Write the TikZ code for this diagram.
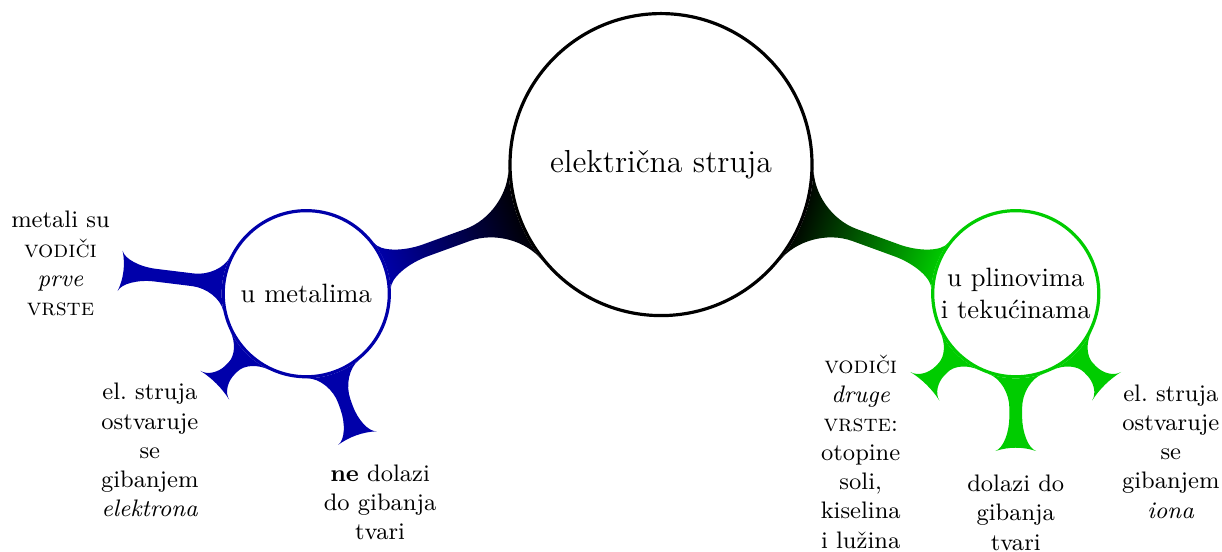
\documentclass[tikz,border=0pt]{standalone}
\usepackage{fontspec}
\usepackage{tikz}
\usetikzlibrary{backgrounds,calc}
\definecolor{metalblue}{RGB}{0,0,170}
\definecolor{fluidgreen}{RGB}{0,204,0}

\tikzset{
  rootconcept/.style={circle, draw=black, very thick, fill=white, minimum size=4cm, inner sep=0pt, font=\large},
  branchconcept/.style={circle, draw=#1, very thick, fill=white, minimum size=2.2cm, inner sep=0pt, align=center},
  leafconcept/.style={inner sep=0pt, align=center, font=\small},
}

% bar between two concepts: from, to, from colour, to colour, end radius, end angle
\makeatletter
\newcommand\conceptbar[6]{%
  \pgfpointdiff{\pgfpointanchor{#1}{center}}{\pgfpointanchor{#2}{center}}%
  \edef\bardx{\the\pgf@x}\edef\bardy{\the\pgf@y}%
  \pgfpointdiff{\pgfpointanchor{#1}{center}}{\pgfpointanchor{#1}{east}}%
  \edef\barra{\the\pgf@x}%
  \pgfmathsetmacro\barra{\barra}%
  \pgfmathsetmacro\barrb{#5}%
  \pgfmathsetmacro\barlen{veclen(\bardx,\bardy)}%
  \pgfmathsetmacro\barangle{atan2(\bardy,\bardx)}%
  \pgfmathsetmacro\bargap{\barlen-\barra-\barrb}%
  \pgfmathsetmacro\barfa{min(0.35*\barra,0.45*\bargap)}%
  \pgfmathsetmacro\barfb{min(0.5*\barrb,0.45*\bargap)}%
  \def\barpa{19}\def\barpb{#6}\def\barw{2.4}%
  \pgfmathsetmacro\barax{\barra*cos(\barpa)}\pgfmathsetmacro\baray{\barra*sin(\barpa)}%
  \pgfmathsetmacro\barbx{\barlen-\barrb*cos(\barpb)}\pgfmathsetmacro\barby{\barrb*sin(\barpb)}%
  \pgfmathsetmacro\barca{0.6*(\baray-\barw)}\pgfmathsetmacro\barcb{0.6*(\barby-\barw)}%
  \pgfmathsetmacro\baracx{\barax+\barca*sin(\barpa)}\pgfmathsetmacro\baracy{\baray-\barca*cos(\barpa)}%
  \pgfmathsetmacro\barbcx{\barbx-\barcb*sin(\barpb)}\pgfmathsetmacro\barbcy{\barby-\barcb*cos(\barpb)}%
  \pgfmathsetmacro\barsa{\barra+\barfa}\pgfmathsetmacro\barsb{\barlen-\barrb-\barfb}%
  \pgfmathsetmacro\barsac{\barra+0.5*\barfa}\pgfmathsetmacro\barsbc{\barlen-\barrb-0.5*\barfb}%
  \begin{scope}[transform canvas={shift={(#1.center)}, rotate=\barangle}]
    \shade[left color=#3, right color=#4]
      (\barax pt,\baray pt) .. controls (\baracx pt,\baracy pt) and (\barsac pt,\barw pt) .. (\barsa pt,\barw pt)
      -- (\barsb pt,\barw pt) .. controls (\barsbc pt,\barw pt) and (\barbcx pt,\barbcy pt) .. (\barbx pt,\barby pt)
      arc[start angle=180-\barpb, end angle=180+\barpb, radius=\barrb pt]
      .. controls (\barbcx pt,-\barbcy pt) and (\barsbc pt,-\barw pt) .. (\barsb pt,-\barw pt)
      -- (\barsa pt,-\barw pt) .. controls (\barsac pt,-\barw pt) and (\baracx pt,-\baracy pt) .. (\barax pt,-\baray pt)
      arc[start angle=-\barpa, end angle=\barpa, radius=\barra pt] -- cycle;
  \end{scope}%
}
\makeatother

\begin{document}
\begin{tikzpicture}
    \useasboundingbox (-8.755,-5.13) rectangle (7.43,2.18);
    \node[rootconcept] (struja) at (0,0) {električna struja};
    \node[branchconcept=metalblue] (metali) at (200:5) {u metalima};
    \node[branchconcept=fluidgreen] (fluidi) at (-20:5) {u plinovima\\ i tekućinama};
    % metali
    \node[leafconcept] (prve) at ($(metali)+(173:3.28)$) {metali su\\ \textsc{vodiči}\\ \emph{prve}\\ \textsc{vrste}};
    \node[leafconcept] (elektroni) at ($(metali)+(225:2.93)$) {el.~struja\\ ostvaruje\\ se\\ gibanjem\\ \emph{elektrona}};
    \node[leafconcept] (netvari) at ($(metali)+(289.5:2.93)$) {\textbf{ne} dolazi\\ do gibanja\\ tvari};
    % plinovi i tekucine
    \node[leafconcept] (druge) at ($(fluidi)+(225.5:2.93)$) {\textsc{vodiči}\\ \emph{druge}\\ \textsc{vrste}:\\ otopine\\ soli,\\ kiselina\\ i lužina};
    \node[leafconcept] (tvari) at ($(fluidi)+(270:2.9)$) {dolazi do\\ gibanja\\ tvari};
    \node[leafconcept] (ioni) at ($(fluidi)+(314.5:2.93)$) {el.~struja\\ ostvaruje\\ se\\ gibanjem\\ \emph{iona}};
    \begin{scope}[on background layer]
        \conceptbar{struja}{metali}{black}{metalblue}{1.12cm}{17}
        \conceptbar{struja}{fluidi}{black}{fluidgreen}{1.12cm}{17}
        \conceptbar{metali}{prve}{metalblue}{metalblue}{0.84cm}{18.7}
        \conceptbar{metali}{elektroni}{metalblue}{metalblue}{1.24cm}{12.6}
        \conceptbar{metali}{netvari}{metalblue}{metalblue}{0.94cm}{16.7}
        \conceptbar{fluidi}{druge}{fluidgreen}{fluidgreen}{1.24cm}{12.6}
        \conceptbar{fluidi}{tvari}{fluidgreen}{fluidgreen}{0.86cm}{18.3}
        \conceptbar{fluidi}{ioni}{fluidgreen}{fluidgreen}{1.24cm}{12.6}
    \end{scope}
\end{tikzpicture}
\end{document}
